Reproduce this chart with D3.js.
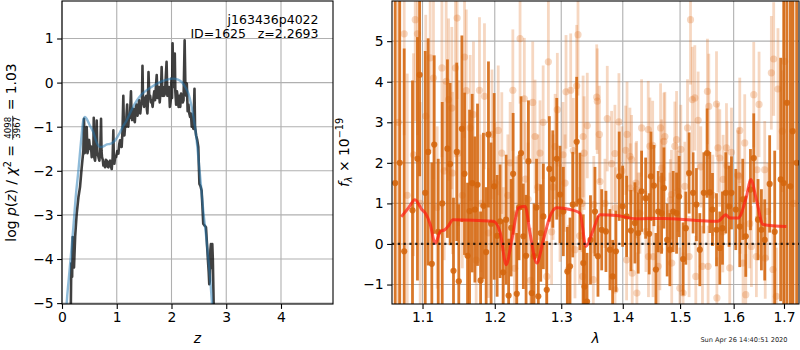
<!DOCTYPE html>
<html><head><meta charset="utf-8">
<script src="https://cdn.jsdelivr.net/npm/d3@7"></script>
<style>body{margin:0;background:#fff} svg{display:block} text{font-family:"DejaVu Sans",sans-serif}</style>
</head><body><svg id="c" width="800" height="350"></svg>
<script>
// ---------------- DATA ----------------
const leftXTicks = [0, 1, 2, 3, 4];
const leftYTicks = [-5, -4, -3, -2, -1, 0, 1];
const rightXTicks = [1.1, 1.2, 1.3, 1.4, 1.5, 1.6, 1.7];
const rightYTicks = [-1, 0, 1, 2, 3, 4, 5];

// log p(z) : [z, value]
const logPz = [
[0.159,-5.3],[0.17,-4.1],[0.185,-4.4],[0.195,-3.5],[0.205,-3.9],[0.219,-4.19],[0.24,-3.5],[0.268,-2.98],[0.30,-2.6],[0.329,-2.37],[0.36,-1.92],[0.39,-1.54],[0.402,-0.82],[0.415,-1.6],[0.427,-1.46],[0.44,-1.1],[0.451,-1.01],[0.465,-1.6],[0.476,-1.54],[0.495,-1.3],[0.512,-1.5],[0.53,-1.45],[0.543,-1.69],[0.56,-1.5],[0.573,-1.54],[0.58,-0.8],[0.59,-1.7],[0.604,-1.77],[0.62,-1.5],[0.634,-0.86],[0.645,-1.6],[0.652,-1.61],[0.668,-1.7],[0.683,-1.77],[0.70,-1.5],[0.713,-0.82],[0.722,-1.55],[0.731,-1.69],[0.745,-1.75],[0.756,-1.88],[0.77,-1.8],[0.786,-1.92],[0.80,-1.75],[0.817,-1.77],[0.83,-1.9],[0.847,-1.92],[0.862,-1.8],[0.877,-1.77],[0.893,-1.9],[0.908,-1.96],[0.925,-1.7],[0.938,-1.08],[0.947,-1.75],[0.956,-1.84],[0.97,-1.7],[0.987,-1.69],[1.01,-1.55],[1.03,-1.61],[1.045,-1.4],[1.06,-1.31],[1.075,-1.45],[1.09,-1.46],[1.105,-1.1],[1.12,-0.3],[1.13,-1.0],[1.14,-1.2],[1.155,-0.95],[1.17,-1.0],[1.18,-0.7],[1.19,-0.5],[1.2,-0.95],[1.21,-1.0],[1.225,-0.75],[1.24,-0.8],[1.25,-0.5],[1.26,-0.2],[1.27,-0.75],[1.28,-0.85],[1.295,-0.6],[1.31,-0.6],[1.32,-0.85],[1.33,-0.9],[1.345,-0.6],[1.36,-0.5],[1.37,-0.7],[1.38,-0.75],[1.395,-0.55],[1.41,-0.4],[1.42,-0.65],[1.43,-0.7],[1.445,-0.5],[1.46,-0.45],[1.47,0.38],[1.48,-0.4],[1.50,-0.55],[1.52,-0.35],[1.54,-0.3],[1.55,-0.6],[1.56,-0.7],[1.57,-0.4],[1.58,0.24],[1.595,-0.35],[1.61,-0.3],[1.625,-0.45],[1.64,-0.4],[1.655,-0.55],[1.67,-0.35],[1.685,-0.2],[1.70,-0.4],[1.715,-0.1],[1.73,0.17],[1.745,-0.35],[1.76,-0.25],[1.77,-0.1],[1.785,-0.45],[1.80,-0.2],[1.81,-0.1],[1.82,0.35],[1.835,-0.3],[1.85,-0.1],[1.865,-0.3],[1.88,-0.25],[1.895,0.1],[1.91,0.47],[1.925,-0.3],[1.94,-0.2],[1.955,-0.1],[1.97,-0.55],[1.985,-0.4],[2.0,0.1],[2.01,-0.35],[2.02,0.89],[2.035,-0.1],[2.045,0.3],[2.06,0.66],[2.07,-0.2],[2.085,-0.5],[2.10,-0.2],[2.115,-0.35],[2.13,-0.55],[2.145,-0.3],[2.16,-0.55],[2.175,-0.25],[2.19,-0.35],[2.205,-0.45],[2.22,-0.4],[2.24,0.96],[2.255,-0.2],[2.27,-0.3],[2.28,-0.02],[2.295,-0.65],[2.31,-0.5],[2.325,-0.7],[2.34,-0.78],[2.355,-0.7],[2.37,-1.0],[2.385,-0.9],[2.40,-1.05],[2.42,-0.14],[2.43,-1.0],[2.45,-1.2],[2.47,-1.3],[2.49,-1.46],[2.50,-1.9],[2.51,-2.3],[2.53,-2.35],[2.55,-2.45],[2.565,-2.8],[2.58,-3.2],[2.61,-3.25],[2.63,-3.28],[2.65,-3.7],[2.67,-4.11],[2.68,-4.3],[2.69,-4.57],[2.70,-4.5],[2.71,-3.8],[2.72,-3.66],[2.73,-4.2],[2.745,-3.66],[2.755,-4.0],[2.77,-5.0],[2.775,-5.5]
];
// smooth fit curve : [z, value]
const fitPz = [
[0.07,-5.4],[0.086,-5.0],[0.12,-4.5],[0.16,-3.95],[0.207,-3.28],[0.25,-2.6],[0.30,-1.99],[0.35,-1.3],[0.39,-0.85],[0.42,-0.78],[0.45,-0.82],[0.50,-0.95],[0.57,-1.12],[0.63,-1.35],[0.695,-1.46],[0.75,-1.45],[0.82,-1.40],[0.88,-1.39],[0.97,-1.31],[1.05,-1.15],[1.12,-0.98],[1.18,-0.86],[1.27,-0.62],[1.37,-0.40],[1.46,-0.26],[1.55,-0.17],[1.67,-0.07],[1.79,0.01],[1.9,0.06],[2.03,0.09],[2.12,0.07],[2.19,0.01],[2.25,-0.1],[2.31,-0.25],[2.36,-0.5],[2.40,-0.78],[2.45,-1.2],[2.49,-1.69],[2.54,-2.35],[2.58,-2.9],[2.63,-3.45],[2.67,-3.96],[2.71,-4.5],[2.74,-5.0],[2.76,-5.3]
];

// spectrum, main points : [lambda, flux, err]
const specMain = [
[1.0644,1.5,9],[1.0702,2.0,9],[1.0760,-0.18,5],[1.0868,0.83,3.2],[1.0933,2.1,3.0],[1.0962,4.17,2.5],[1.1036,1.26,3.5],[1.1075,2.27,2.8],[1.1124,-0.49,2.5],[1.1156,2.45,2.2],[1.1210,0.3,1.8],[1.1264,1.0,2.5],[1.1335,2.35,2.2],[1.1372,1.97,2.0],[1.1418,-0.66,1.8],[1.1463,2.27,2.2],[1.1491,-0.92,1.9],[1.1534,2.84,2.3],[1.1571,1.73,2.0],[1.1613,-0.29,1.8],[1.1641,0.81,2.5],[1.1678,1.5,2.2],[1.1716,0.85,1.8],[1.1753,1.46,2.0],[1.1797,-0.9,1.7],[1.1837,0.94,1.8],[1.1876,-0.2,1.6],[1.1909,2.7,1.8],[1.1947,0.5,2.0],[1.1991,1.42,2.3],[1.2034,0.2,1.5],[1.2077,0.56,1.4],[1.2121,-0.7,1.3],[1.2165,0.6,1.6],[1.2202,-1.27,1.4],[1.2239,0.4,1.2],[1.2268,1.73,1.5],[1.2322,-1.23,1.5],[1.2356,0.9,1.3],[1.2386,2.24,1.4],[1.2420,0.19,1.3],[1.2461,-0.29,1.5],[1.2496,2.04,1.5],[1.2546,-1.21,1.2],[1.2581,-0.3,1.3],[1.2619,0.9,1.2],[1.2646,-1.29,1.3],[1.2683,0.27,1.2],[1.2723,0.68,1.3],[1.2775,-1.13,1.2],[1.2815,1.85,1.3],[1.2868,1.6,1.2],[1.2930,2.1,1.5],[1.2981,1.22,1.2],[1.3033,0.8,1.1],[1.3096,-0.68,1.1],[1.3138,-0.55,1.2],[1.3181,0.97,1.3],[1.3244,2.52,1.6],[1.3297,1.05,1.2],[1.3350,-0.47,1.2],[1.3369,-1.05,1.0],[1.3410,-1.42,1.2],[1.3466,0.1,1.1],[1.3539,0.8,1.1],[1.3588,-0.3,1.0],[1.3649,0.35,1.0],[1.3719,0.31,1.0],[1.3785,-0.14,1.0],[1.3830,-0.8,0.9],[1.3885,-0.18,1.0],[1.3940,1.67,1.1],[1.3997,0.93,1.0],[1.4065,0.68,1.0],[1.4138,0.33,1.0],[1.4206,0.52,1.0],[1.4263,0.27,1.0],[1.4321,1.3,1.0],[1.4391,1.13,1.0],[1.4453,0.25,1.0],[1.4483,1.67,1.1],[1.4535,1.44,1.0],[1.4570,-0.63,0.9],[1.4610,0.8,1.0],[1.4670,0.76,1.0],[1.4711,1.38,1.0],[1.4769,0.1,0.9],[1.4817,-0.14,0.9],[1.4876,0.8,1.0],[1.4937,0.76,1.0],[1.4983,1.17,1.0],[1.5055,-0.37,0.9],[1.5104,0.39,0.9],[1.5164,1.75,1.0],[1.5237,1.26,1.0],[1.5299,0.97,0.9],[1.5361,-0.14,0.9],[1.5435,1.26,1.0],[1.5496,2.24,1.1],[1.5547,1.27,1.0],[1.5597,0.85,0.9],[1.5673,0.35,0.9],[1.5735,-0.1,0.9],[1.5786,0.39,0.9],[1.5849,1.26,1.0],[1.5912,0.93,1.0],[1.5958,1.26,0.9],[1.6041,0.85,1.0],[1.6118,0.43,1.0],[1.6176,1.1,1.0],[1.6235,0.19,1.0],[1.6327,1.34,1.0],[1.6392,2.12,1.1],[1.6477,0.6,1.0],[1.6544,0.35,1.0],[1.6610,0.1,1.0],[1.6709,1.48,1.2],[1.6811,0.3,2.0],[1.6932,1.59,3.0],[1.6994,1.5,9],[1.7061,3.48,9],[1.7131,1.42,9],[1.7178,2.78,9],[1.7261,2.0,9]
];
// spectrum, secondary (faint) points : [lambda, flux, err]
const specFaint = [
[1.0683,3.0,8],[1.0760,5.18,2.5],[1.0799,1.2,3.0],[1.0881,2.2,2.5],[1.0904,5.53,2.5],[1.0933,5.18,2.5],[1.0969,1.0,2.5],[1.1043,3.15,2.5],[1.1102,4.59,2.3],[1.1146,4.09,2.5],[1.1196,0.9,2.0],[1.1260,4.34,2.2],[1.1291,1.8,2.2],[1.1318,4.01,2.2],[1.1350,3.56,2.0],[1.1395,3.35,2.0],[1.1405,1.75,2.0],[1.1445,4.34,2.2],[1.1468,5.57,2.0],[1.1486,2.24,1.8],[1.1540,1.2,1.8],[1.1571,4.61,2.0],[1.1595,3.78,2.0],[1.1650,2.86,1.8],[1.1696,3.19,1.8],[1.1734,-0.4,1.8],[1.1781,3.79,1.8],[1.1805,1.0,1.7],[1.1852,3.64,1.8],[1.1909,0.27,1.6],[1.1960,2.7,1.6],[1.2005,1.5,1.5],[1.2050,2.8,1.6],[1.2102,2.24,1.5],[1.2125,-0.1,1.5],[1.2190,1.2,1.5],[1.2224,2.0,1.5],[1.2264,3.79,1.5],[1.2290,-0.6,1.4],[1.2322,0.76,1.4],[1.2371,5.06,1.6],[1.2435,3.58,1.5],[1.2450,1.6,1.4],[1.2491,1.1,1.4],[1.2530,-0.9,1.3],[1.2561,3.49,1.5],[1.2596,2.65,1.4],[1.2640,1.4,1.3],[1.2672,2.24,1.3],[1.2720,3.0,1.4],[1.2775,-0.8,1.2],[1.2800,4.49,1.5],[1.2850,0.3,1.3],[1.2873,1.4,1.3],[1.2905,2.4,1.3],[1.2939,3.31,1.4],[1.2981,0.76,1.2],[1.3028,2.2,1.3],[1.3060,1.5,1.2],[1.3075,3.75,1.4],[1.3112,-0.63,1.1],[1.3149,3.79,1.4],[1.3190,2.3,1.3],[1.3217,-0.14,1.2],[1.3244,3.9,1.5],[1.3265,5.16,1.5],[1.3290,0.2,1.2],[1.3329,1.0,1.2],[1.3340,-0.8,1.1],[1.3347,2.65,1.5],[1.3363,2.24,1.4],[1.3414,2.92,1.3],[1.3512,-0.88,1.1],[1.3520,0.97,1.2],[1.3567,3.62,1.3],[1.3577,3.52,1.3],[1.3610,2.7,1.2],[1.3621,1.54,1.1],[1.3703,1.0,1.1],[1.3741,3.09,1.3],[1.3813,1.98,1.3],[1.3868,2.23,1.2],[1.3870,-1.13,1.0],[1.3875,0.89,1.0],[1.3935,3.01,1.2],[1.3985,1.8,1.1],[1.4049,2.31,1.1],[1.4065,-0.39,1.0],[1.4072,2.7,1.3],[1.4121,2.16,1.2],[1.4128,1.38,1.1],[1.4150,2.08,1.1],[1.4160,-0.72,1.0],[1.4223,1.5,1.0],[1.4235,1.34,1.2],[1.4240,-1.21,1.0],[1.4263,0.76,1.0],[1.4292,0.76,1.0],[1.4321,2.86,1.2],[1.4396,0.31,1.0],[1.4436,2.82,1.2],[1.4440,-0.31,1.0],[1.4465,2.41,1.2],[1.4513,2.43,1.1],[1.4520,-0.31,1.0],[1.4610,-0.55,1.0],[1.4640,-0.14,1.0],[1.4652,2.86,1.1],[1.4670,1.87,1.2],[1.4675,1.6,1.0],[1.4711,2.53,1.2],[1.4728,2.65,1.1],[1.4817,0.76,1.0],[1.4825,1.09,1.0],[1.4846,1.22,1.1],[1.4850,-0.47,1.0],[1.4906,2.41,1.1],[1.4937,2.57,1.2],[1.4960,1.3,1.0],[1.4996,-1.09,1.0],[1.5014,2.33,1.1],[1.5055,-1.21,1.0],[1.5086,1.42,1.1],[1.5135,2.86,1.2],[1.5164,-0.31,1.0],[1.5190,5.53,1.6],[1.5223,3.56,1.3],[1.5269,3.6,1.3],[1.5287,-0.8,1.0],[1.5330,3.05,1.2],[1.5379,1.9,1.0],[1.5410,-0.55,1.0],[1.5503,3.76,1.3],[1.5515,-0.55,1.0],[1.5528,3.39,1.3],[1.5603,1.2,1.0],[1.5673,3.45,1.3],[1.5680,-1.33,1.0],[1.5700,2.37,1.1],[1.5735,2.12,1.2],[1.5792,0.3,1.0],[1.5799,1.59,1.1],[1.5862,2.37,1.1],[1.5874,1.93,1.1],[1.5925,-0.59,1.0],[1.5958,2.26,1.1],[1.6079,1.7,1.1],[1.6099,1.67,1.2],[1.6118,2.8,1.3],[1.6125,0.76,1.0],[1.6182,-0.47,1.0],[1.6215,2.49,1.2],[1.6235,-1.25,1.0],[1.6313,0.5,1.1],[1.6346,-0.06,1.0],[1.6392,3.68,1.3],[1.6444,-0.31,1.0],[1.6456,1.83,1.2],[1.6497,3.44,1.3],[1.6610,1.83,1.2],[1.6620,-0.35,1.0],[1.6669,0.8,1.2],[1.6743,4.22,1.4],[1.6776,-0.63,1.1],[1.6790,4.56,1.4],[1.6845,-1.29,1.2],[1.6877,3.82,1.5],[1.6966,2.78,1.5],[1.7014,4.5,8],[1.7199,1.0,8]
];
// model spectrum : [lambda, flux]
const specModel = [
[1.0722,0.67],[1.082,0.9],[1.090,1.09],[1.099,0.85],[1.104,0.75],[1.110,0.5],[1.117,0.02],[1.124,0.31],[1.130,0.35],[1.135,0.45],[1.141,0.6],[1.198,0.56],[1.208,0.27],[1.2166,-0.51],[1.2248,0.1],[1.2347,0.89],[1.2446,0.93],[1.252,0.27],[1.2622,-0.47],[1.2723,0.1],[1.2826,0.68],[1.2929,0.89],[1.3138,0.85],[1.3297,0.76],[1.3393,-0.06],[1.3511,0.35],[1.3621,0.72],[1.3896,0.70],[1.4235,0.62],[1.4698,0.63],[1.530,0.58],[1.570,0.56],[1.5849,0.72],[1.5925,0.64],[1.6085,0.64],[1.6248,1.17],[1.6333,1.59],[1.6445,1.09],[1.6577,0.48],[1.705,0.43]
];
const titleName = "j163436p4022";
const titleId = "ID=1625";
const titleZ = "z=2.2693";
const stamp = "Sun Apr 26 14:40:51 2020";

// ---------------- DRAW ----------------
const svg = d3.select("#c");
const FS = 13.9;
const FONT = "DejaVu Sans";

const L = {x0:62, x1:333, y0:1, y1:304};
const R = {x0:392, x1:799, y0:1, y1:304};
const xL = d3.scaleLinear().domain([0, 4.95]).range([L.x0, L.x1]);
const yL = d3.scaleLinear().domain([-5.02, 1.85]).range([L.y1, L.y0]);
const xR = d3.scaleLog().domain([1.0603, 1.731]).range([R.x0, R.x1]);
const yR = d3.scaleLinear().domain([-1.48, 5.99]).range([R.y1, R.y0]);

const defs = svg.append("defs");
function clip(id, b){
  defs.append("clipPath").attr("id", id).append("rect")
    .attr("x", b.x0).attr("y", b.y0).attr("width", b.x1-b.x0).attr("height", b.y1-b.y0);
}
clip("cL", L); clip("cR", R);

function grid(b, x, y, xt, yt){
  const g = svg.append("g").attr("stroke", "#b0b0b0").attr("stroke-width", 1.1);
  g.selectAll(".gx").data(xt).join("line")
    .attr("x1", d=>x(d)).attr("x2", d=>x(d)).attr("y1", b.y0).attr("y2", b.y1);
  g.selectAll(".gy").data(yt).join("line")
    .attr("y1", d=>y(d)).attr("y2", d=>y(d)).attr("x1", b.x0).attr("x2", b.x1);
}
function axes(b, x, y, xt, yt, xf, yf){
  const ax = svg.append("g").attr("transform", `translate(0,${b.y1})`)
    .call(d3.axisBottom(x).tickValues(xt).tickFormat(xf).tickSize(4.9).tickPadding(3.5));
  const ay = svg.append("g").attr("transform", `translate(${b.x0},0)`)
    .call(d3.axisLeft(y).tickValues(yt).tickFormat(yf).tickSize(4.9).tickPadding(3.5));
  [ax, ay].forEach(a => {
    a.select(".domain").remove();
    a.attr("font-family", FONT).attr("font-size", FS);
    a.selectAll("text").attr("fill", "#000");
    a.selectAll("line").attr("stroke", "#000").attr("stroke-width", 1.1);
  });
  svg.append("rect").attr("x", b.x0).attr("y", b.y0).attr("width", b.x1-b.x0).attr("height", b.y1-b.y0)
    .attr("fill", "none").attr("stroke", "#000").attr("stroke-width", 1.1);
}

// ---- left panel ----
grid(L, xL, yL, leftXTicks, leftYTicks);
const gL = svg.append("g").attr("clip-path", "url(#cL)");
gL.append("path").datum(logPz)
  .attr("d", d3.line().x(d=>xL(d[0])).y(d=>yL(d[1])))
  .attr("fill", "none").attr("stroke", "#000").attr("stroke-opacity", 0.75)
  .attr("stroke-width", 2.6).attr("stroke-linejoin", "round");
gL.append("path").datum(fitPz)
  .attr("d", d3.line().curve(d3.curveMonotoneX).x(d=>xL(d[0])).y(d=>yL(d[1])))
  .attr("fill", "none").attr("stroke", "#1f77b4").attr("stroke-opacity", 0.5)
  .attr("stroke-width", 2.4);
axes(L, xL, yL, leftXTicks, leftYTicks, d3.format("d"), d3.format("d"));

svg.append("text").attr("x", 318.5).attr("y", 24).attr("text-anchor", "end")
  .attr("font-size", 12.5).text(titleName);
svg.append("text").attr("x", 246).attr("y", 37.5).attr("text-anchor", "end")
  .attr("font-size", 12.5).text(titleId);
svg.append("text").attr("x", 318.5).attr("y", 37.5).attr("text-anchor", "end")
  .attr("font-size", 12.5).text(titleZ);

// ---- right panel ----
grid(R, xR, yR, rightXTicks, rightYTicks);
const gR = svg.append("g").attr("clip-path", "url(#cR)");
function errLayer(data, color, op, r){
  const g = gR.append("g");
  g.selectAll("line").data(data).join("line")
    .attr("x1", d=>xR(d[0])).attr("x2", d=>xR(d[0]))
    .attr("y1", d=>yR(d[1]-d[2])).attr("y2", d=>yR(d[1]+d[2]))
    .attr("stroke", color).attr("stroke-opacity", op).attr("stroke-width", 2.8);
  g.selectAll("circle").data(data).join("circle")
    .attr("cx", d=>xR(d[0])).attr("cy", d=>yR(d[1])).attr("r", r)
    .attr("fill", color).attr("fill-opacity", op);
}
errLayer(specFaint, "#e07020", 0.28, 3.6);
errLayer(specMain, "#d4650c", 0.88, 3.1);
gR.append("path").datum(specModel)
  .attr("d", d3.line().curve(d3.curveMonotoneX).x(d=>xR(d[0])).y(d=>yR(d[1])))
  .attr("fill", "none").attr("stroke", "#ff1a10").attr("stroke-opacity", 0.7)
  .attr("stroke-width", 3).attr("stroke-linejoin", "round");
gR.append("line").attr("x1", R.x0).attr("x2", R.x1).attr("y1", yR(0)).attr("y2", yR(0))
  .attr("stroke", "#000").attr("stroke-opacity", 0.8).attr("stroke-width", 2.2)
  .attr("stroke-dasharray", "2.2,3.6");
axes(R, xR, yR, rightXTicks, rightYTicks, d3.format(".1f"), d3.format("d"));

// ---- axis labels ----
svg.append("text").attr("x", (L.x0+L.x1)/2).attr("y", 342.5).attr("text-anchor", "middle")
  .attr("font-size", FS).attr("font-style", "italic").text("z");
svg.append("text").attr("x", (R.x0+R.x1)/2).attr("y", 343).attr("text-anchor", "middle")
  .attr("font-size", FS).attr("font-style", "italic").text("λ");

// left y label
const gy = svg.append("g");
const t1 = gy.append("text").attr("font-size", FS);
t1.append("tspan").text("log ");
t1.append("tspan").attr("font-style", "italic").text("p");
t1.append("tspan").text("(");
t1.append("tspan").attr("font-style", "italic").text("z");
t1.append("tspan").text(") / ");
t1.append("tspan").attr("font-style", "italic").text("χ");
t1.append("tspan").attr("font-size", 9.7).attr("dy", -5.5).text("2");
t1.append("tspan").attr("dy", 5.5).style("white-space", "pre").text(" = ");
const w1 = t1.node().getComputedTextLength();
const num = gy.append("text").attr("font-size", 8.6).attr("text-anchor", "middle").text("4098");
const den = gy.append("text").attr("font-size", 8.6).attr("text-anchor", "middle").text("3967");
const wf = Math.max(num.node().getComputedTextLength(), den.node().getComputedTextLength()) + 2;
const fx = w1 + 1 + wf/2;
num.attr("x", fx).attr("y", -4.6);
den.attr("x", fx).attr("y", 4.2);
gy.append("line").attr("x1", w1+1).attr("x2", w1+1+wf).attr("y1", -3.3).attr("y2", -3.3)
  .attr("stroke", "#000").attr("stroke-width", 0.8);
const t3 = gy.append("text").attr("font-size", FS).attr("x", w1 + 2 + wf).style("white-space", "pre").text(" = 1.03");
const wTot = w1 + 2 + wf + t3.node().getComputedTextLength();
gy.attr("transform", `translate(16,${(L.y0+L.y1)/2}) rotate(-90) translate(${-wTot/2},0)`);

// right y label
const ty = svg.append("text").attr("font-size", FS).attr("text-anchor", "middle")
  .attr("transform", `translate(348.5,${(R.y0+R.y1)/2}) rotate(-90)`);
ty.append("tspan").attr("font-style", "italic").text("f");
ty.append("tspan").attr("font-size", 9.7).attr("font-style", "italic").attr("dy", 3).text("λ");
ty.append("tspan").attr("dy", -3).style("white-space", "pre").text(" × 10");
ty.append("tspan").attr("font-size", 9.7).attr("dy", -5.5).text("−19");

// timestamp
svg.append("text").attr("x", 787.5).attr("y", 342).attr("text-anchor", "end")
  .attr("font-size", 6.6).attr("fill", "#222").text(stamp);
</script></body></html>
